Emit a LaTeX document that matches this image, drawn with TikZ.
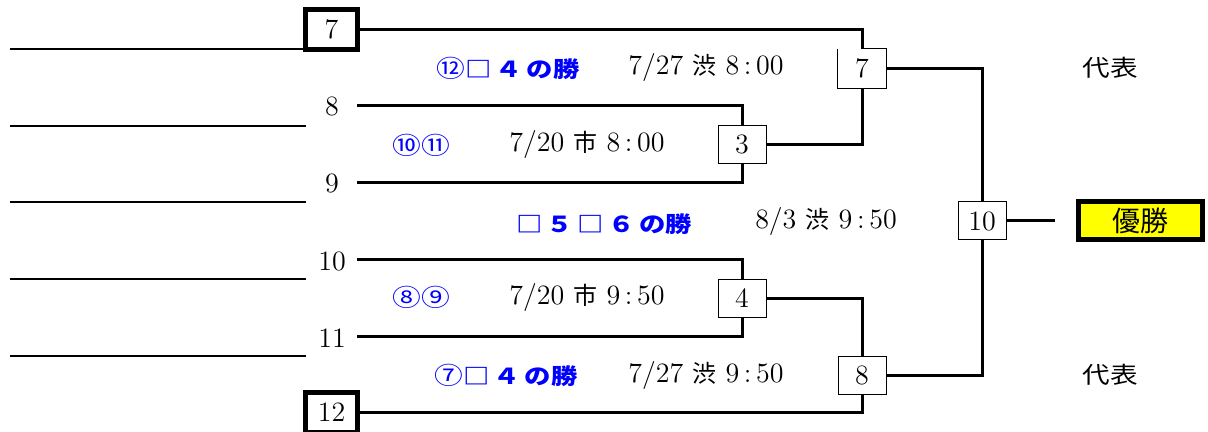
\documentclass[tikz,border=0pt]{standalone}
\usepackage{fontspec}
\usepackage{graphicx}
\newfontfamily\jp{Noto Sans CJK JP}
\definecolor{tblue}{RGB}{0,0,255}
\definecolor{tyellow}{RGB}{255,255,0}
\newcommand{\sx}[1]{\scalebox{1.2}[1]{#1}}
\newcommand{\tm}[1]{{\jp\fontsize{12}{14}\selectfont #1}}
\newcommand{\cn}[1]{{\mdseries\fontsize{12}{13}\selectfont #1}}
\begin{document}
\begin{tikzpicture}[x=0.5pt,y=-0.5pt,
  lbl/.style={inner sep=0pt,font=\fontsize{14}{16}\selectfont},
  blu/.style={inner sep=0pt,text=tblue,font=\jp\bfseries\fontsize{11}{13}\selectfont},
  rep/.style={inner sep=0pt,font=\jp\fontsize{11.5}{13}\selectfont},
  sbox/.style={draw,line width=0.5pt,minimum width=24pt,minimum height=19pt,inner sep=0pt,font=\fontsize{14}{16}\selectfont,fill=white},
  tbox/.style={draw,line width=2.5pt,minimum width=26pt,minimum height=20pt,inner sep=0pt,font=\fontsize{14}{16}\selectfont,fill=white},
  conn/.style={line width=1.5pt},
  lline/.style={line width=0.6pt}]
\useasboundingbox (0,0) rectangle (1208,432);

% left entry lines
\coordinate (l1a) at (10,49);  \coordinate (l1b) at (306,49);
\coordinate (l2a) at (10,126); \coordinate (l2b) at (306,126);
\coordinate (l3a) at (10,202); \coordinate (l3b) at (306,202);
\coordinate (l4a) at (10,279); \coordinate (l4b) at (306,279);
\coordinate (l5a) at (10,356); \coordinate (l5b) at (306,356);
\draw[lline] (l1a) -- (l1b);
\draw[lline] (l2a) -- (l2b);
\draw[lline] (l3a) -- (l3b);
\draw[lline] (l4a) -- (l4b);
\draw[lline] (l5a) -- (l5b);

% seeds
\node[tbox] (b7) at (331.5,29.5) {7};
\node[tbox] (b12) at (331.5,412.5) {12};
\node[lbl] (n8) at (332,106) {8};
\node[lbl] (n9) at (332,183) {9};
\node[lbl] (n10) at (332,261) {10};
\node[lbl] (n11) at (332,338) {11};
\coordinate (s8) at (357,106);
\coordinate (s9) at (357,183);
\coordinate (s10) at (357,260);
\coordinate (s11) at (357,336);

% match boxes
\node[sbox] (b3) at (742,144.5) {3};
\node[sbox] (b4) at (742,298.5) {4};
\node[minimum width=24pt,minimum height=19.5pt,inner sep=0pt,font=\fontsize{14}{16}\selectfont] (b7b) at (862,68.5) {7};
\node[sbox] (b8) at (862,375.5) {8};
\node[sbox] (b10) at (982,221) {10};
\node[draw,line width=2.5pt,fill=tyellow,minimum width=62pt,minimum height=19pt,inner sep=0pt,font=\jp\fontsize{14}{16}\selectfont] (win) at (1140,221) {優勝};
\coordinate (w0) at (1055,221);

% connectors
\draw[conn] (s8) -| (b3.north);
\draw[conn] (s9) -| (b3.south);
\draw[conn] (s10) -| (b4.north);
\draw[conn] (s11) -| (b4.south);
\draw[conn] (b7.east) -| (b7b.north);
\draw[conn] (b3.east) -| (b7b.south);
\draw[conn] (b12.east) -| (b8.south);
\draw[conn] (b4.east) -| (b8.north);
\draw[conn] (b7b.east) -| (b10.north);
\draw[conn] (b8.east) -| (b10.south);
\draw[conn] (b10.east) -- (w0);
\draw[line width=0.5pt] (b7b.north) -- (b7b.north east) -- (b7b.south east) -- (b7b.south west) -- (b7b.north west);

% labels
\node[blu] (t1) at (508,68) {\sx{\cn{⑫}□\,４\,の勝}};
\node[lbl] (d1) at (706,68) {7/27 \tm{渋} 8\,:\,00};
\node[blu] (t2) at (421,145) {\sx{\cn{⑩⑪}}};
\node[lbl] (d2) at (587,145) {7/20 \tm{市} 8\,:\,00};
\node[blu] (t3) at (604,224) {\sx{□\,５\,□\,６\,の勝}};
\node[lbl] (d3) at (826,222) {8/3 \tm{渋} 9\,:\,50};
\node[blu] (t4) at (421,297) {\sx{\cn{⑧⑨}}};
\node[lbl] (d4) at (587,298) {7/20 \tm{市} 9\,:\,50};
\node[blu] (t5) at (506,375) {\sx{\cn{⑦}□\,４\,の勝}};
\node[lbl] (d5) at (706,375) {7/27 \tm{渋} 9\,:\,50};
\node[rep] (r1) at (1110,68) {\sx{代表}};
\node[rep] (r2) at (1110,375) {\sx{代表}};
\end{tikzpicture}
\end{document}
